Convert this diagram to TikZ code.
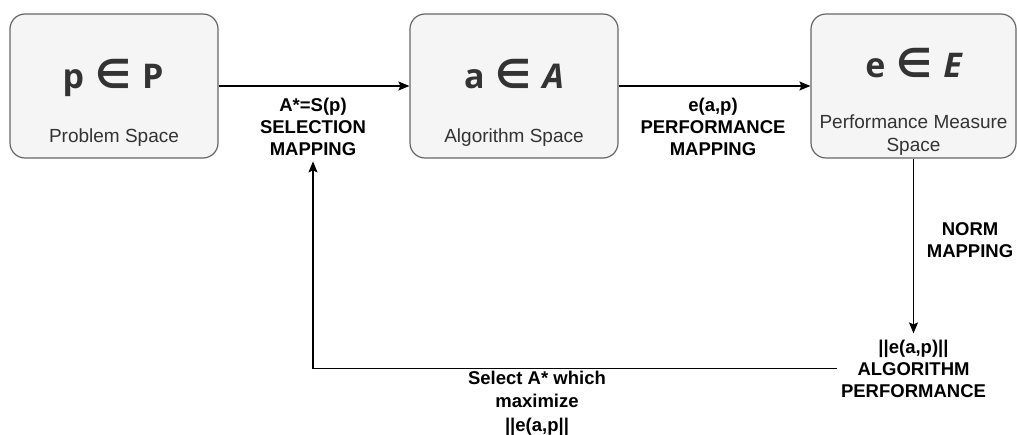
\documentclass[tikz,border=0pt]{standalone}
\usepackage{fontspec}
\setmainfont{Liberation Sans}
\newfontfamily\symfont{Open Sans}
\newfontfamily\relfont{DejaVu Sans}
\usetikzlibrary{arrows.meta}
\definecolor{boxfill}{HTML}{F5F5F5}
\definecolor{boxline}{HTML}{666666}
\definecolor{boxtext}{HTML}{333333}
% membership sign, taken from DejaVu Sans
\newcommand{\elemof}{{\relfont\fontsize{40}{40}\selectfont ∈}}

\begin{document}
\begin{tikzpicture}[x=1pt,y=-1pt,
  space/.style={draw=boxline, fill=boxfill, line width=1.2pt, rounded corners=15pt,
    minimum width=208pt, minimum height=144pt, inner sep=0pt},
  symbol/.style={anchor=base, inner sep=0pt, text=boxtext,
    font=\symfont\bfseries\fontsize{34}{34}\selectfont},
  caption/.style={anchor=base, inner sep=0pt, text=boxtext, align=center,
    font=\fontsize{19}{23}\selectfont},
  maplabel/.style={anchor=base, align=center, inner sep=0pt,
    font=\bfseries\fontsize{18.5}{22}\selectfont},
  flow/.style={draw, line width=1.3pt, -{Stealth[length=11pt,width=9pt,inset=2pt]}}
]
\useasboundingbox (0,0) rectangle (1017,434);

% the three spaces
\node[space] (ps) at (114,86) {};
\node[space] (as) at (514,86) {};
\node[space, minimum width=205pt] (es) at (913.5,86) {};

% symbols and captions (base anchor = baseline of the last line)
\node[symbol] (psym) at (113,88) {p\hspace{11pt}\elemof\hspace{11pt}P};
\node[caption] (pcap) at (114,142) {Problem Space};

\node[symbol] (asym) at (514,88) {a\hspace{11pt}\elemof\hspace{11pt}\itshape A};
\node[caption] (acap) at (514,142) {Algorithm Space};

\node[symbol] (esym) at (913.5,77) {e\hspace{11pt}\elemof\hspace{11pt}\itshape E};
\node[caption] (ecap) at (913.5,151) {Performance Measure\\Space};

% mapping labels
\node[maplabel, inner ysep=6pt] (sel) at (313,155) {A*=S(p)\\SELECTION\\MAPPING};
\node[maplabel] (pmap) at (713,155) {e(a,p)\\PERFORMANCE\\MAPPING};
\node[maplabel] (norm) at (970,257) {NORM\\MAPPING};
\node[maplabel, inner xsep=4pt, inner ysep=6pt] (perf) at (913.5,397) {||e(a,p)||\\ALGORITHM\\PERFORMANCE};
\node[maplabel, font=\bfseries\fontsize{18.5}{23.5}\selectfont] (pick) at (537,431) {Select A* which\\maximize\\||e(a,p||};

% connectors
\draw[flow] (ps.east) -- (as.west);
\draw[flow] (as.east) -- (es.west);
\draw[flow] (es.south) -- (perf.north);
\draw[flow] (perf.west) -| (sel.south);
\end{tikzpicture}
\end{document}
